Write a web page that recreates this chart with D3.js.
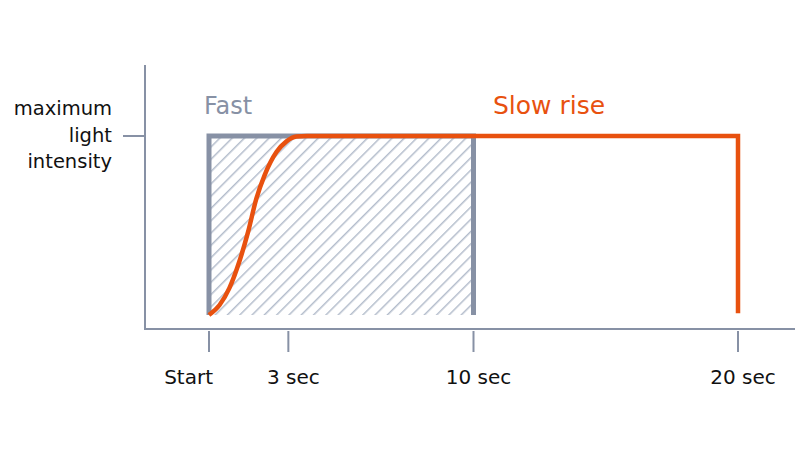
<!DOCTYPE html>
<html>
<head>
<meta charset="utf-8">
<script src="https://cdn.jsdelivr.net/npm/d3@7"></script>
<style>
  body { margin: 0; background: #fff; }
  svg text { font-family: "DejaVu Sans", Verdana, sans-serif; }
</style>
</head>
<body>
<div id="chart"></div>
<script>
// tick positions on the time axis (seconds) and their labels
const tickSecs = [0, 3, 10, 20];
const tickLabels = ["Start", "3 sec", "10 sec", "20 sec"];

// y axis label (one tick at full intensity)
const yTickValue = 1;
const yLabelLines = ["maximum", "light", "intensity"];

// "Fast": instant on, held until 10 sec
const fastSecs = [0, 0, 10, 10];
const fastLevel = [0, 1, 1, 0];

// "Slow rise": S-curve to full intensity, held until 20 sec
const slowSecs = [0, 0.4, 0.77, 1.15, 1.47, 1.79, 2.1, 2.55, 2.93, 3.31, 3.7, 20, 20];
const slowLevel = [0, 0.056, 0.15, 0.30, 0.46, 0.65, 0.78, 0.91, 0.97, 0.997, 1, 1, 0.01];

const W = 800, H = 449;
const grey = "#8791a5";
const orange = "#e8510f";

const svg = d3.select("#chart").append("svg")
    .attr("width", W).attr("height", H);

/* hatch pattern for the fast area */
const defs = svg.append("defs");
defs.append("pattern")
    .attr("id", "hatch")
    .attr("patternUnits", "userSpaceOnUse")
    .attr("width", 8.7).attr("height", 8.7)
    .attr("patternTransform", "rotate(45)")
    .append("line")
    .attr("x1", 0).attr("y1", 0).attr("x2", 0).attr("y2", 8.7)
    .attr("stroke", "#b4bdcc").attr("stroke-width", 3);

/* scales */
const x = d3.scaleLinear().domain([0, 20]).range([209, 738]);
const y = d3.scaleLinear().domain([0, 1]).range([315, 136]);

const axisX0 = 145, axisY0 = 329;

/* axes lines */
svg.append("line")
    .attr("x1", axisX0).attr("x2", axisX0).attr("y1", 65).attr("y2", axisY0 + 1)
    .attr("stroke", grey).attr("stroke-width", 2);
svg.append("line")
    .attr("x1", axisX0).attr("x2", 795).attr("y1", axisY0).attr("y2", axisY0)
    .attr("stroke", grey).attr("stroke-width", 2);

/* x ticks */
const xt = svg.append("g");
xt.selectAll("line").data(tickSecs).join("line")
    .attr("x1", d => x(d)).attr("x2", d => x(d))
    .attr("y1", axisY0 + 2).attr("y2", 352)
    .attr("stroke", grey).attr("stroke-width", 2);
// first label sits left of its tick, the rest just right of centre
xt.selectAll("text").data(tickSecs).join("text")
    .attr("x", (d, i) => i === 0 ? x(d) + 4 : x(d) + 5)
    .attr("y", 384)
    .attr("text-anchor", (d, i) => i === 0 ? "end" : "middle")
    .attr("font-size", 20).attr("fill", "#111")
    .text((d, i) => tickLabels[i]);

/* y tick and label */
svg.append("line")
    .attr("x1", 123).attr("x2", axisX0).attr("y1", y(yTickValue)).attr("y2", y(yTickValue))
    .attr("stroke", grey).attr("stroke-width", 2);
svg.append("text")
    .attr("text-anchor", "end").attr("font-size", 19.5).attr("fill", "#111")
    .selectAll("tspan").data(yLabelLines).join("tspan")
    .attr("x", 112).attr("y", (d, i) => 115 + i * 26.5)
    .text(d => d);

/* fast: hatched area + outline */
const fastPts = fastSecs.map((s, i) => [s, fastLevel[i]]);
svg.append("rect")
    .attr("x", x(0)).attr("y", y(1))
    .attr("width", x(10) - x(0)).attr("height", y(0) - y(1))
    .attr("fill", "url(#hatch)");
svg.append("path")
    .attr("d", d3.line().x(d => x(d[0])).y(d => y(d[1]))(fastPts))
    .attr("fill", "none").attr("stroke", grey).attr("stroke-width", 5);

/* slow rise curve */
const slowPts = slowSecs.map((s, i) => [s, slowLevel[i]]);
svg.append("path")
    .attr("d", d3.line().x(d => x(d[0])).y(d => y(d[1])).curve(d3.curveMonotoneX)(slowPts))
    .attr("fill", "none").attr("stroke", orange).attr("stroke-width", 4.5)
    .attr("stroke-linejoin", "miter");

/* series labels */
svg.append("text").attr("x", 204).attr("y", 114)
    .attr("font-size", 24).attr("fill", grey).text("Fast");
svg.append("text").attr("x", 493).attr("y", 114)
    .attr("font-size", 25).attr("fill", orange).text("Slow rise");
</script>
</body>
</html>
